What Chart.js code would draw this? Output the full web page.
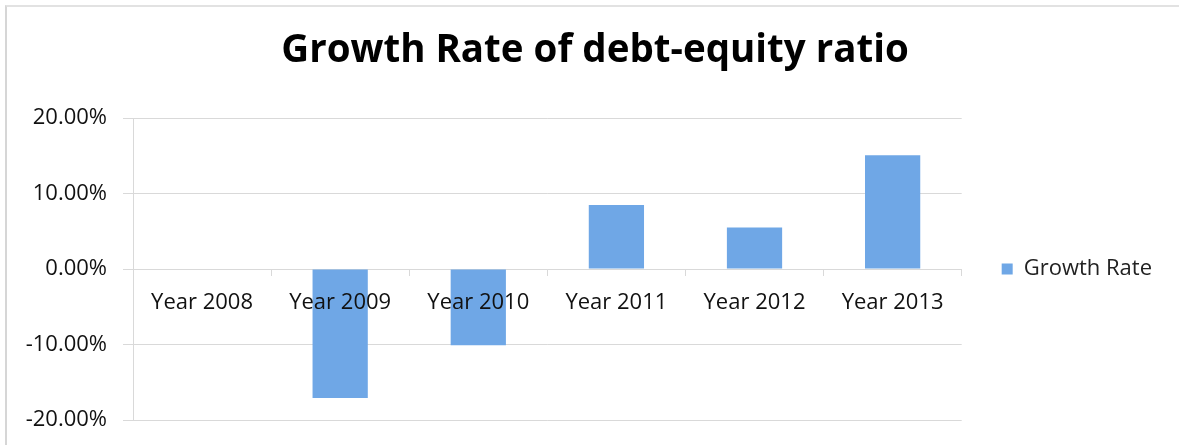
<!DOCTYPE html>
<html>
<head>
<meta charset="utf-8">
<script src="https://cdn.jsdelivr.net/npm/chart.js@4"></script>
<style>
  html, body { margin: 0; padding: 0; background: #fff; }
  #wrap { position: relative; width: 1179px; height: 445px; }
  #frame { position: absolute; left: 5px; top: 5px; width: 1180px; height: 450px;
           border-left: 2px solid #d6d6d6; border-top: 2px solid #e2e2e2; box-sizing: border-box; }
  canvas { position: absolute; left: 0; top: 0; }
</style>
</head>
<body>
<div id="wrap">
  <div id="frame"></div>
  <canvas id="growthChart" width="1179" height="445"></canvas>
</div>
<script>
const years = ['Year 2008', 'Year 2009', 'Year 2010', 'Year 2011', 'Year 2012', 'Year 2013'];
const growthRate = [0, -17.1, -10.1, 8.5, 5.5, 15.1];
const yTicks = [-20, -10, 0, 10, 20];

const FONT = '"Open Sans", "Noto Sans", sans-serif';
const gridGray = '#d9d9d9';

// nudge the title a little right of the canvas centre
const titleShift = {
    id: 'titleShift',
    afterLayout(chart) {
        if (chart.titleBlock) {
            chart.titleBlock.left += 14;
            chart.titleBlock.right += 14;
        }
    }
};

document.addEventListener('DOMContentLoaded', function() {
    const ctx = document.getElementById('growthChart').getContext('2d');
    new Chart(ctx, {
        type: 'bar',
        data: {
            labels: years,
            datasets: [{
                label: 'Growth Rate',
                data: growthRate,
                backgroundColor: '#6fa7e6',
                borderWidth: 0,
                barPercentage: 0.4,
                categoryPercentage: 1.0
            }]
        },
        plugins: [titleShift],
        options: {
            responsive: false,
            animation: false,
            layout: { padding: { top: 0, right: 17, bottom: 25, left: 0 } },
            plugins: {
                title: {
                    display: true,
                    text: 'Growth Rate of debt-equity ratio',
                    color: '#000',
                    font: { family: FONT, size: 38.5, weight: 'bold' },
                    padding: { top: 28, bottom: 44 }
                },
                legend: {
                    position: 'right',
                    fullSize: false,
                    labels: {
                        color: '#222',
                        font: { family: FONT, size: 22 },
                        boxWidth: 11,
                        boxHeight: 11,
                        padding: 10
                    }
                },
                tooltip: { enabled: false }
            },
            scales: {
                x: {
                    position: { y: 0 },
                    offset: true,
                    grid: {
                        offset: true,
                        drawOnChartArea: false,
                        drawTicks: true,
                        tickLength: 6,
                        color: gridGray
                    },
                    border: { color: gridGray },
                    ticks: {
                        z: 1,
                        color: '#111',
                        font: { family: FONT, size: 22 },
                        padding: 14,
                        maxRotation: 0
                    }
                },
                y: {
                    min: -20,
                    max: 20,
                    afterBuildTicks: function(scale) {
                        scale.ticks = yTicks.map(v => ({ value: v }));
                    },
                    afterFit: function(scale) {
                        scale.width = 133;
                        scale.paddingBottom = 0;
                    },
                    grid: {
                        color: gridGray,
                        tickLength: 10
                    },
                    border: { color: gridGray },
                    ticks: {
                        color: '#111',
                        font: { family: FONT, size: 22 },
                        padding: 16,
                        callback: v => v.toFixed(2) + '%'
                    }
                },
                // empty spacer between the plot and the legend
                gap: {
                    type: 'linear',
                    position: 'right',
                    grid: { display: false },
                    border: { display: false },
                    ticks: { display: false },
                    afterFit: function(scale) {
                        scale.width = 30;
                    }
                }
            }
        }
    });
});
</script>
</body>
</html>
